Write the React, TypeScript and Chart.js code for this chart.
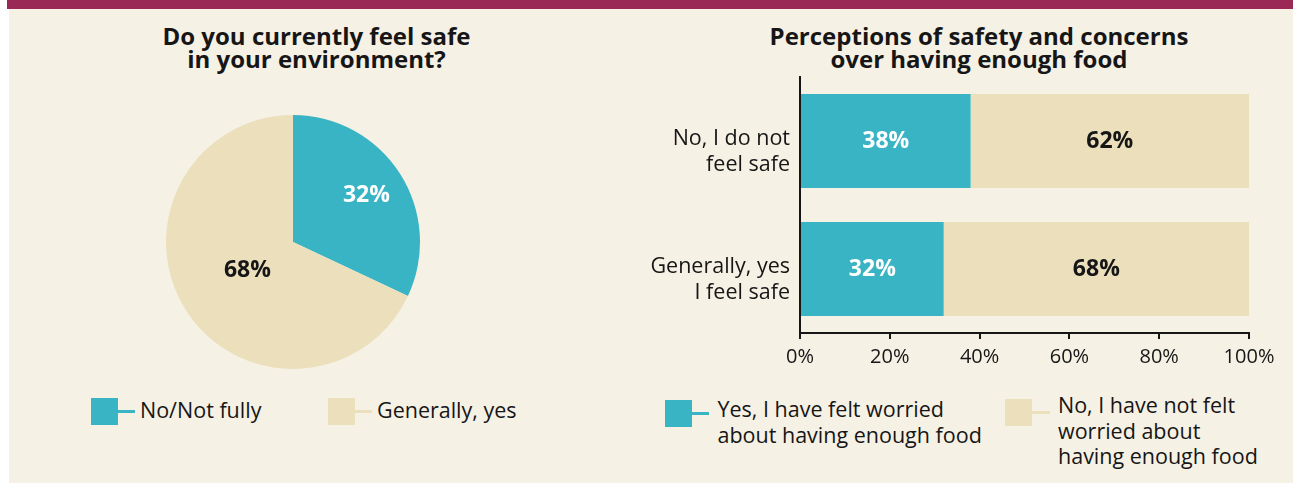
import React, { useEffect, useRef } from "react";
import { Chart, registerables } from "chart.js";
Chart.register(...registerables);

const FONT = "'Open Sans', 'Noto Sans', sans-serif";

// ---- data ----
const pieTitle = ["Do you currently feel safe", "in your environment?"];
const pieLabels = ["No/Not fully", "Generally, yes"];
const pieValues = [32, 68];

const barTitle = ["Perceptions of safety and concerns", "over having enough food"];
const barCategories = [["No, I do not", "feel safe"], ["Generally, yes", "I feel safe"]];
const worriedValues = [38, 32];
const notWorriedValues = [62, 68];
const seriesNames = [
  "Yes, I have felt worried about having enough food",
  "No, I have not felt worried about having enough food",
];
const seriesLegendLines = [
  ["Yes, I have felt worried", "about having enough food"],
  ["No, I have not felt", "worried about", "having enough food"],
];
const xTickValues = [0, 20, 40, 60, 80, 100];

// ---- style ----
const TEAL = "#38b4c5";
const BEIGE = "#ebdfbc";
const CREAM = "#f6f1e5";
const MAROON = "#9a2a55";
const INK = "#161616";

const pieLabelPlugin = {
  id: "pieLabels",
  afterDatasetsDraw(chart: any) {
    const ctx = chart.ctx;
    const meta = chart.getDatasetMeta(0);
    const factors = [0.685, 0.425];
    const colors = ["#ffffff", INK];
    meta.data.forEach((arc: any, i: number) => {
      const p = arc.getProps(["x", "y", "startAngle", "endAngle", "outerRadius"], true);
      const mid = (p.startAngle + p.endAngle) / 2;
      const r = p.outerRadius * factors[i];
      ctx.save();
      ctx.font = `bold 23px ${FONT}`;
      ctx.fillStyle = colors[i];
      ctx.textAlign = "center";
      ctx.textBaseline = "middle";
      ctx.fillText(`${pieValues[i]}%`, p.x + Math.cos(mid) * r, p.y + Math.sin(mid) * r);
      ctx.restore();
    });
  },
};

const barLabelPlugin = {
  id: "barLabels",
  afterDatasetsDraw(chart: any) {
    const ctx = chart.ctx;
    const colors = ["#ffffff", INK];
    chart.data.datasets.forEach((ds: any, di: number) => {
      const meta = chart.getDatasetMeta(di);
      meta.data.forEach((bar: any, i: number) => {
        const p = bar.getProps(["x", "y", "base"], true);
        ctx.save();
        ctx.font = `bold 23px ${FONT}`;
        ctx.fillStyle = colors[di];
        ctx.textAlign = "center";
        ctx.textBaseline = "middle";
        ctx.fillText(`${ds.data[i]}%`, (p.x + p.base) / 2, p.y);
        ctx.restore();
      });
    });
  },
};

function PieChart() {
  const ref = useRef<HTMLCanvasElement | null>(null);
  useEffect(() => {
    const chart = new Chart(ref.current as HTMLCanvasElement, {
      type: "pie",
      data: {
        labels: pieLabels,
        datasets: [{ data: pieValues, backgroundColor: [TEAL, BEIGE], borderWidth: 0 }],
      },
      options: {
        animation: false,
        responsive: false,
        layout: { padding: 6 },
        plugins: { legend: { display: false }, tooltip: { enabled: false }, title: { display: false } },
      },
      plugins: [pieLabelPlugin],
    });
    return () => chart.destroy();
  }, []);
  return (
    <canvas
      ref={ref}
      width={266}
      height={266}
      style={{ position: "absolute", left: 160, top: 109, width: 266, height: 266 }}
    />
  );
}

function BarChart() {
  const ref = useRef<HTMLCanvasElement | null>(null);
  useEffect(() => {
    const chart = new Chart(ref.current as HTMLCanvasElement, {
      type: "bar",
      data: {
        labels: barCategories,
        datasets: [
          { label: seriesNames[0], data: worriedValues, backgroundColor: TEAL, borderWidth: 0 },
          { label: seriesNames[1], data: notWorriedValues, backgroundColor: BEIGE, borderWidth: 0 },
        ],
      },
      options: {
        animation: false,
        responsive: false,
        indexAxis: "y",
        layout: { padding: { top: 17, right: 44, left: 0, bottom: 0 } },
        datasets: { bar: { categoryPercentage: 1, barPercentage: 0.734 } },
        plugins: { legend: { display: false }, tooltip: { enabled: false }, title: { display: false } },
        scales: {
          x: {
            type: "linear",
            stacked: true,
            min: 0,
            max: 100,
            afterBuildTicks: (scale: any) => {
              scale.ticks = xTickValues.map((v) => ({ value: v }));
            },
            afterFit: (scale: any) => {
              scale.height = 47;
            },
            ticks: {
              color: INK,
              font: { family: FONT, size: 20 },
              padding: 6,
              maxRotation: 0,
              callback: (v: any) => `${v}%`,
            },
            grid: { display: true, drawOnChartArea: false, drawTicks: true, tickLength: 6, color: INK, lineWidth: 2 },
            border: { display: true, color: INK, width: 2 },
          },
          y: {
            type: "category",
            stacked: true,
            afterFit: (scale: any) => {
              scale.width = 160;
              scale.paddingTop = 0;
              scale.paddingBottom = 0;
            },
            ticks: {
              color: INK,
              font: { family: FONT, size: 21.5, lineHeight: 1.18 },
              padding: 10,
              labelOffset: 11,
            },
            grid: { display: false, drawTicks: false },
            border: { display: true, color: INK, width: 2 },
          },
        },
      },
      plugins: [barLabelPlugin],
    });
    return () => chart.destroy();
  }, []);
  return (
    <canvas
      ref={ref}
      width={653}
      height={320}
      style={{ position: "absolute", left: 640, top: 60, width: 653, height: 320 }}
    />
  );
}

function Title({ lines, center }: { lines: string[]; center: number }) {
  return (
    <div
      style={{
        position: "absolute",
        left: center - 300,
        width: 600,
        top: 23.5,
        textAlign: "center",
        fontFamily: FONT,
        fontWeight: 700,
        fontSize: 24,
        lineHeight: "23px",
        color: INK,
      }}
    >
      {lines.map((l, i) => (
        <div key={i}>{l}</div>
      ))}
    </div>
  );
}

function LegendItem({
  color,
  lines,
  sq,
  lineEnd,
  textLeft,
  textTop,
}: {
  color: string;
  lines: string[];
  sq: [number, number];
  lineEnd: number;
  textLeft: number;
  textTop: number;
}) {
  return (
    <>
      <div style={{ position: "absolute", left: sq[0], top: sq[1], width: 27, height: 27, background: color }} />
      <div
        style={{
          position: "absolute",
          left: sq[0] + 27,
          top: sq[1] + 12,
          width: lineEnd - sq[0] - 27,
          height: 3,
          background: color,
        }}
      />
      <div
        style={{
          position: "absolute",
          left: textLeft,
          top: textTop,
          fontFamily: FONT,
          fontSize: 21.5,
          lineHeight: "25.5px",
          color: INK,
          whiteSpace: "nowrap",
        }}
      >
        {lines.map((l, i) => (
          <div key={i}>{l}</div>
        ))}
      </div>
    </>
  );
}

export default function App() {
  return (
    <div
      style={{
        position: "absolute",
        left: 0,
        top: 0,
        width: 1293,
        height: 484,
        background: "#ffffff",
        overflow: "hidden",
      }}
    >
      <div style={{ position: "absolute", left: 7, top: 0, width: 1286, height: 9, background: MAROON }} />
      <div style={{ position: "absolute", left: 9, top: 9, width: 1284, height: 474, background: CREAM }} />
      <Title lines={pieTitle} center={316.5} />
      <Title lines={barTitle} center={979} />
      <PieChart />
      <BarChart />
      <LegendItem color={TEAL} lines={[pieLabels[0]]} sq={[91, 398]} lineEnd={135} textLeft={140} textTop={396.5} />
      <LegendItem color={BEIGE} lines={[pieLabels[1]]} sq={[328, 398]} lineEnd={372} textLeft={377} textTop={396.5} />
      <LegendItem color={TEAL} lines={seriesLegendLines[0]} sq={[665, 400]} lineEnd={709} textLeft={717.5} textTop={396} />
      <LegendItem color={BEIGE} lines={seriesLegendLines[1]} sq={[1005, 399]} lineEnd={1050} textLeft={1058} textTop={392} />
    </div>
  );
}
